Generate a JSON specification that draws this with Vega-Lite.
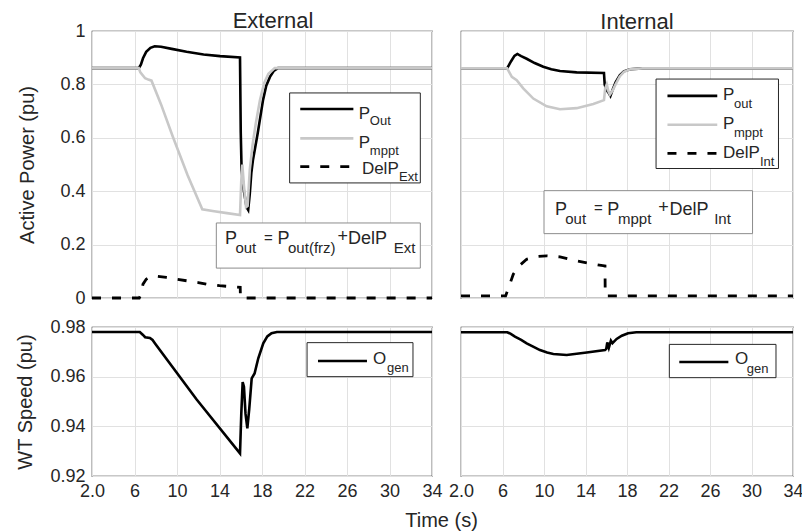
{
  "$schema": "https://vega.github.io/schema/vega-lite/v6.json",
  "background": "white",
  "padding": {"left": 15, "top": 9, "right": 8, "bottom": 2},
  "config": {
    "font": "Liberation Sans",
    "view": {"stroke": "#262626", "strokeWidth": 1.2},
    "axis": {
      "grid": true, "gridColor": "#e1e1e1", "gridWidth": 1,
      "ticks": false, "domain": false,
      "labelFont": "Liberation Sans", "labelFontSize": 18, "labelColor": "#262626", "labelPadding": 7,
      "titleFont": "Liberation Sans", "titleFontSize": 20, "titleFontWeight": "normal", "titleColor": "#262626"
    },
    "title": {"font": "Liberation Sans", "fontSize": 22, "fontWeight": "normal", "color": "#262626"},
    "text": {"font": "Liberation Sans", "color": "#262626", "align": "left", "baseline": "middle"},
    "line": {"clip": false}
  },
  "title": {"text": "Time (s)", "orient": "bottom", "anchor": "middle", "fontSize": 20, "dx": 32, "offset": 10},
  "datasets": {
    "extOut": [
      {"t": 2, "v": 0.861}, {"t": 6.4, "v": 0.861}, {"t": 6.6, "v": 0.874}, {"t": 6.8, "v": 0.898},
      {"t": 7.1, "v": 0.922}, {"t": 7.5, "v": 0.937}, {"t": 7.9, "v": 0.943}, {"t": 8.5, "v": 0.941},
      {"t": 9.5, "v": 0.933}, {"t": 10.9, "v": 0.922}, {"t": 12.5, "v": 0.912}, {"t": 14.05, "v": 0.906},
      {"t": 15.93, "v": 0.901}, {"t": 16.0, "v": 0.62}, {"t": 16.08, "v": 0.48}, {"t": 16.3, "v": 0.4},
      {"t": 16.55, "v": 0.34}, {"t": 16.7, "v": 0.33}, {"t": 16.85, "v": 0.39}, {"t": 17.0, "v": 0.47},
      {"t": 17.15, "v": 0.517}, {"t": 17.6, "v": 0.618}, {"t": 18.1, "v": 0.742}, {"t": 18.4, "v": 0.795},
      {"t": 18.75, "v": 0.828}, {"t": 19.1, "v": 0.85}, {"t": 19.5, "v": 0.861}, {"t": 34, "v": 0.861}
    ],
    "extMppt": [
      {"t": 2, "v": 0.861}, {"t": 6.4, "v": 0.861}, {"t": 6.55, "v": 0.845}, {"t": 7.0, "v": 0.823},
      {"t": 7.3, "v": 0.818}, {"t": 7.6, "v": 0.814}, {"t": 8.5, "v": 0.725}, {"t": 9.6, "v": 0.605},
      {"t": 11.0, "v": 0.46}, {"t": 12.38, "v": 0.332}, {"t": 13.5, "v": 0.325}, {"t": 14.7, "v": 0.318},
      {"t": 15.93, "v": 0.311}, {"t": 16.05, "v": 0.44}, {"t": 16.15, "v": 0.5}, {"t": 16.3, "v": 0.42},
      {"t": 16.5, "v": 0.34}, {"t": 16.65, "v": 0.345}, {"t": 16.85, "v": 0.48}, {"t": 17.1, "v": 0.57},
      {"t": 17.4, "v": 0.65}, {"t": 17.8, "v": 0.74}, {"t": 18.2, "v": 0.805}, {"t": 18.6, "v": 0.84},
      {"t": 19.2, "v": 0.861}, {"t": 34, "v": 0.861}
    ],
    "extDel": [
      {"t": 2, "v": 0.0}, {"t": 6.45, "v": 0.0}, {"t": 6.6, "v": 0.012}, {"t": 6.8, "v": 0.052},
      {"t": 7.1, "v": 0.07}, {"t": 7.6, "v": 0.081}, {"t": 8.0, "v": 0.082}, {"t": 9.0, "v": 0.077},
      {"t": 10.0, "v": 0.07}, {"t": 11.0, "v": 0.064}, {"t": 12.0, "v": 0.058}, {"t": 12.8, "v": 0.052},
      {"t": 14.0, "v": 0.046}, {"t": 15.3, "v": 0.042}, {"t": 15.95, "v": 0.04}, {"t": 15.97, "v": 0.0},
      {"t": 34, "v": 0.0}
    ],
    "extSpeed": [
      {"t": 2, "v": 0.978}, {"t": 6.5, "v": 0.978}, {"t": 6.8, "v": 0.9768}, {"t": 7.0, "v": 0.9759},
      {"t": 7.45, "v": 0.9756}, {"t": 7.7, "v": 0.9748}, {"t": 7.95, "v": 0.9733}, {"t": 11.85, "v": 0.9508},
      {"t": 15.93, "v": 0.9291}, {"t": 16.05, "v": 0.945}, {"t": 16.18, "v": 0.9578}, {"t": 16.3, "v": 0.956},
      {"t": 16.45, "v": 0.945}, {"t": 16.62, "v": 0.9392}, {"t": 16.8, "v": 0.947}, {"t": 17.03, "v": 0.9593},
      {"t": 17.3, "v": 0.9613}, {"t": 17.65, "v": 0.9674}, {"t": 18.12, "v": 0.9734}, {"t": 18.5, "v": 0.9762},
      {"t": 18.9, "v": 0.9775}, {"t": 19.4, "v": 0.978}, {"t": 34, "v": 0.978}
    ],
    "intOut": [
      {"t": 2, "v": 0.86}, {"t": 6.45, "v": 0.86}, {"t": 6.8, "v": 0.885}, {"t": 7.15, "v": 0.907},
      {"t": 7.43, "v": 0.914}, {"t": 7.8, "v": 0.906}, {"t": 8.33, "v": 0.896}, {"t": 9.1, "v": 0.88},
      {"t": 9.93, "v": 0.866}, {"t": 10.7, "v": 0.857}, {"t": 11.54, "v": 0.85}, {"t": 13.15, "v": 0.845},
      {"t": 15.78, "v": 0.843}, {"t": 15.85, "v": 0.8}, {"t": 16.0, "v": 0.78}, {"t": 16.2, "v": 0.77},
      {"t": 16.4, "v": 0.757}, {"t": 16.6, "v": 0.778}, {"t": 16.9, "v": 0.808}, {"t": 17.3, "v": 0.834},
      {"t": 17.7, "v": 0.849}, {"t": 18.3, "v": 0.857}, {"t": 19.5, "v": 0.86}, {"t": 34, "v": 0.86}
    ],
    "intMppt": [
      {"t": 2, "v": 0.86}, {"t": 6.45, "v": 0.86}, {"t": 6.9, "v": 0.828}, {"t": 7.37, "v": 0.816},
      {"t": 8.0, "v": 0.785}, {"t": 8.97, "v": 0.747}, {"t": 10.26, "v": 0.718}, {"t": 11.54, "v": 0.707},
      {"t": 13.15, "v": 0.711}, {"t": 14.75, "v": 0.727}, {"t": 15.78, "v": 0.741}, {"t": 15.9, "v": 0.785},
      {"t": 16.05, "v": 0.8}, {"t": 16.2, "v": 0.775}, {"t": 16.35, "v": 0.762}, {"t": 16.6, "v": 0.776},
      {"t": 16.9, "v": 0.8}, {"t": 17.3, "v": 0.83}, {"t": 17.7, "v": 0.847}, {"t": 18.3, "v": 0.857},
      {"t": 19.5, "v": 0.86}, {"t": 34, "v": 0.86}
    ],
    "intDel": [
      {"t": 2, "v": 0.008}, {"t": 6.3, "v": 0.008}, {"t": 6.6, "v": 0.04}, {"t": 7.04, "v": 0.089},
      {"t": 7.6, "v": 0.12}, {"t": 8.33, "v": 0.145}, {"t": 9.3, "v": 0.155}, {"t": 10.26, "v": 0.158},
      {"t": 11.54, "v": 0.154}, {"t": 12.4, "v": 0.146}, {"t": 13.15, "v": 0.139}, {"t": 14.75, "v": 0.127},
      {"t": 15.88, "v": 0.12}, {"t": 15.9, "v": 0.008}, {"t": 34, "v": 0.008}
    ],
    "intSpeed": [
      {"t": 2, "v": 0.9779}, {"t": 6.46, "v": 0.9779}, {"t": 6.8, "v": 0.9772}, {"t": 7.2, "v": 0.9761},
      {"t": 7.8, "v": 0.9748}, {"t": 8.33, "v": 0.9734}, {"t": 9.0, "v": 0.972}, {"t": 9.61, "v": 0.9707},
      {"t": 10.3, "v": 0.9697}, {"t": 10.9, "v": 0.9691}, {"t": 12.19, "v": 0.9687}, {"t": 14.12, "v": 0.9697},
      {"t": 15.88, "v": 0.9707}, {"t": 16.0, "v": 0.9712}, {"t": 16.1, "v": 0.9738}, {"t": 16.25, "v": 0.9716},
      {"t": 16.45, "v": 0.9745}, {"t": 16.6, "v": 0.9735}, {"t": 17.0, "v": 0.9752}, {"t": 17.5, "v": 0.9765},
      {"t": 18.1, "v": 0.9775}, {"t": 18.9, "v": 0.9779}, {"t": 34, "v": 0.9779}
    ]
  },
  "columns": 2,
  "align": "each",
  "bounds": "flush",
  "spacing": {"row": 29, "column": 29},
  "concat": [
    {
      "width": 340, "height": 267,
      "title": {"text": "External", "dx": 11, "offset": -11},
      "layer": [
        {
          "data": {"name": "extOut"},
          "mark": {"type": "line", "color": "#000000", "strokeWidth": 2.6},
          "encoding": {
            "x": {"field": "t", "type": "quantitative", "scale": {"domain": [2, 34], "nice": false, "zero": false},
                  "axis": {"values": [2, 6, 10, 14, 18, 22, 26, 30, 34], "labels": false, "title": null}},
            "y": {"field": "v", "type": "quantitative", "scale": {"domain": [0, 1], "nice": false},
                  "axis": {"values": [0, 0.2, 0.4, 0.6, 0.8, 1], "format": "~g", "title": "Active Power (pu)", "titlePadding": 22}}
          }
        },
        {
          "data": {"name": "extMppt"},
          "mark": {"type": "line", "color": "#c8c8c8", "strokeWidth": 2.6},
          "encoding": {"x": {"field": "t", "type": "quantitative"}, "y": {"field": "v", "type": "quantitative"}}
        },
        {
          "data": {"name": "extDel"},
          "mark": {"type": "line", "color": "#000000", "strokeWidth": 2.8, "strokeDash": [9, 11]},
          "encoding": {"x": {"field": "t", "type": "quantitative"}, "y": {"field": "v", "type": "quantitative"}}
        },
        {
          "data": {"values": [{}]},
          "layer": [
            {"mark": {"type": "rect", "fill": "white", "stroke": "#262626", "strokeWidth": 1},
             "encoding": {"x": {"datum": 20.6}, "x2": {"datum": 32.9}, "y": {"datum": 0.768}, "y2": {"datum": 0.431}}},
            {"mark": {"type": "rule", "color": "#000000", "strokeWidth": 2.6},
             "encoding": {"x": {"datum": 21.6}, "x2": {"datum": 26.6}, "y": {"datum": 0.708}}},
            {"mark": {"type": "rule", "color": "#c8c8c8", "strokeWidth": 2.6},
             "encoding": {"x": {"datum": 21.6}, "x2": {"datum": 26.6}, "y": {"datum": 0.598}}},
            {"mark": {"type": "rule", "color": "#000000", "strokeWidth": 2.8, "strokeDash": [9, 11]},
             "encoding": {"x": {"datum": 21.6}, "x2": {"datum": 26.6}, "y": {"datum": 0.492}}},
            {"mark": {"type": "text", "text": "P", "fontSize": 17},
             "encoding": {"x": {"datum": 27.1}, "y": {"datum": 0.689}}},
            {"mark": {"type": "text", "text": "Out", "fontSize": 13},
             "encoding": {"x": {"datum": 28.15}, "y": {"datum": 0.662}}},
            {"mark": {"type": "text", "text": "P", "fontSize": 17},
             "encoding": {"x": {"datum": 27.1}, "y": {"datum": 0.582}}},
            {"mark": {"type": "text", "text": "mppt", "fontSize": 13},
             "encoding": {"x": {"datum": 28.15}, "y": {"datum": 0.549}}},
            {"mark": {"type": "text", "text": "DelP", "fontSize": 17},
             "encoding": {"x": {"datum": 27.4}, "y": {"datum": 0.483}}},
            {"mark": {"type": "text", "text": "Ext", "fontSize": 13},
             "encoding": {"x": {"datum": 30.9}, "y": {"datum": 0.453}}},
            {"mark": {"type": "rect", "fill": "white", "stroke": "#8c8c8c", "strokeWidth": 1},
             "encoding": {"x": {"datum": 13.7}, "x2": {"datum": 32.9}, "y": {"datum": 0.281}, "y2": {"datum": 0.112}}},
            {"mark": {"type": "text", "text": "P", "fontSize": 18},
             "encoding": {"x": {"datum": 14.52}, "y": {"datum": 0.221}}},
            {"mark": {"type": "text", "text": "out", "fontSize": 15},
             "encoding": {"x": {"datum": 15.5}, "y": {"datum": 0.187}}},
            {"mark": {"type": "text", "text": "=", "fontSize": 15},
             "encoding": {"x": {"datum": 18.19}, "y": {"datum": 0.226}}},
            {"mark": {"type": "text", "text": "P", "fontSize": 18},
             "encoding": {"x": {"datum": 19.45}, "y": {"datum": 0.221}}},
            {"mark": {"type": "text", "text": "out(frz)", "fontSize": 15},
             "encoding": {"x": {"datum": 20.45}, "y": {"datum": 0.187}}},
            {"mark": {"type": "text", "text": "+", "fontSize": 18},
             "encoding": {"x": {"datum": 25.1}, "y": {"datum": 0.228}}},
            {"mark": {"type": "text", "text": "DelP", "fontSize": 18},
             "encoding": {"x": {"datum": 26.1}, "y": {"datum": 0.221}}},
            {"mark": {"type": "text", "text": "Ext", "fontSize": 15},
             "encoding": {"x": {"datum": 30.4}, "y": {"datum": 0.187}}}
          ]
        }
      ]
    },
    {
      "width": 332, "height": 267,
      "title": {"text": "Internal", "dx": 10, "offset": -3},
      "layer": [
        {
          "data": {"name": "intOut"},
          "mark": {"type": "line", "color": "#000000", "strokeWidth": 2.6},
          "encoding": {
            "x": {"field": "t", "type": "quantitative", "scale": {"domain": [2, 34], "nice": false, "zero": false},
                  "axis": {"values": [2, 6, 10, 14, 18, 22, 26, 30, 34], "labels": false, "title": null}},
            "y": {"field": "v", "type": "quantitative", "scale": {"domain": [0, 1], "nice": false},
                  "axis": {"values": [0, 0.2, 0.4, 0.6, 0.8, 1], "labels": false, "title": null}}
          }
        },
        {
          "data": {"name": "intMppt"},
          "mark": {"type": "line", "color": "#c8c8c8", "strokeWidth": 2.6},
          "encoding": {"x": {"field": "t", "type": "quantitative"}, "y": {"field": "v", "type": "quantitative"}}
        },
        {
          "data": {"name": "intDel"},
          "mark": {"type": "line", "color": "#000000", "strokeWidth": 2.8, "strokeDash": [9, 11]},
          "encoding": {"x": {"field": "t", "type": "quantitative"}, "y": {"field": "v", "type": "quantitative"}}
        },
        {
          "data": {"values": [{}]},
          "layer": [
            {"mark": {"type": "rect", "fill": "white", "stroke": "#262626", "strokeWidth": 1},
             "encoding": {"x": {"datum": 20.8}, "x2": {"datum": 32.6}, "y": {"datum": 0.82}, "y2": {"datum": 0.485}}},
            {"mark": {"type": "rule", "color": "#000000", "strokeWidth": 2.6},
             "encoding": {"x": {"datum": 21.9}, "x2": {"datum": 26.7}, "y": {"datum": 0.757}}},
            {"mark": {"type": "rule", "color": "#c8c8c8", "strokeWidth": 2.6},
             "encoding": {"x": {"datum": 21.9}, "x2": {"datum": 26.7}, "y": {"datum": 0.649}}},
            {"mark": {"type": "rule", "color": "#000000", "strokeWidth": 2.8, "strokeDash": [9, 11]},
             "encoding": {"x": {"datum": 21.9}, "x2": {"datum": 26.7}, "y": {"datum": 0.542}}},
            {"mark": {"type": "text", "text": "P", "fontSize": 17},
             "encoding": {"x": {"datum": 27.25}, "y": {"datum": 0.759}}},
            {"mark": {"type": "text", "text": "out", "fontSize": 13},
             "encoding": {"x": {"datum": 28.31}, "y": {"datum": 0.727}}},
            {"mark": {"type": "text", "text": "P", "fontSize": 17},
             "encoding": {"x": {"datum": 27.25}, "y": {"datum": 0.65}}},
            {"mark": {"type": "text", "text": "mppt", "fontSize": 13},
             "encoding": {"x": {"datum": 28.31}, "y": {"datum": 0.618}}},
            {"mark": {"type": "text", "text": "DelP", "fontSize": 17},
             "encoding": {"x": {"datum": 27.25}, "y": {"datum": 0.543}}},
            {"mark": {"type": "text", "text": "Int", "fontSize": 13},
             "encoding": {"x": {"datum": 30.82}, "y": {"datum": 0.511}}},
            {"mark": {"type": "rect", "fill": "white", "stroke": "#8c8c8c", "strokeWidth": 1},
             "encoding": {"x": {"datum": 10.0}, "x2": {"datum": 30.1}, "y": {"datum": 0.402}, "y2": {"datum": 0.241}}},
            {"mark": {"type": "text", "text": "P", "fontSize": 18},
             "encoding": {"x": {"datum": 11.06}, "y": {"datum": 0.331}}},
            {"mark": {"type": "text", "text": "out", "fontSize": 15},
             "encoding": {"x": {"datum": 12.05}, "y": {"datum": 0.297}}},
            {"mark": {"type": "text", "text": "=", "fontSize": 15},
             "encoding": {"x": {"datum": 14.82}, "y": {"datum": 0.336}}},
            {"mark": {"type": "text", "text": "P", "fontSize": 18},
             "encoding": {"x": {"datum": 16.1}, "y": {"datum": 0.331}}},
            {"mark": {"type": "text", "text": "mppt", "fontSize": 15},
             "encoding": {"x": {"datum": 17.13}, "y": {"datum": 0.297}}},
            {"mark": {"type": "text", "text": "+", "fontSize": 18},
             "encoding": {"x": {"datum": 21.0}, "y": {"datum": 0.338}}},
            {"mark": {"type": "text", "text": "DelP", "fontSize": 18},
             "encoding": {"x": {"datum": 22.1}, "y": {"datum": 0.331}}},
            {"mark": {"type": "text", "text": "Int", "fontSize": 15},
             "encoding": {"x": {"datum": 26.4}, "y": {"datum": 0.297}}}
          ]
        }
      ]
    },
    {
      "width": 340, "height": 149,
      "layer": [
        {
          "data": {"name": "extSpeed"},
          "mark": {"type": "line", "color": "#000000", "strokeWidth": 2.6},
          "encoding": {
            "x": {"field": "t", "type": "quantitative", "scale": {"domain": [2, 34], "nice": false, "zero": false},
                  "axis": {"values": [2, 6, 10, 14, 18, 22, 26, 30, 34], "title": null, "labelPadding": 6,
                           "labelExpr": "datum.value == 2 ? '2.0' : datum.label", "labelOverlap": false, "labelFlush": false}},
            "y": {"field": "v", "type": "quantitative", "scale": {"domain": [0.92, 0.98], "nice": false, "zero": false},
                  "axis": {"values": [0.92, 0.94, 0.96, 0.98], "format": ".2f", "title": "WT Speed (pu)", "titlePadding": 14}}
          }
        },
        {
          "data": {"values": [{}]},
          "layer": [
            {"mark": {"type": "rect", "fill": "white", "stroke": "#262626", "strokeWidth": 1},
             "encoding": {"x": {"datum": 22.24}, "x2": {"datum": 32.21}, "y": {"datum": 0.9737}, "y2": {"datum": 0.96}}},
            {"mark": {"type": "rule", "color": "#000000", "strokeWidth": 2.6},
             "encoding": {"x": {"datum": 23.27}, "x2": {"datum": 27.88}, "y": {"datum": 0.9663}}},
            {"mark": {"type": "text", "text": "O", "fontSize": 17},
             "encoding": {"x": {"datum": 28.45}, "y": {"datum": 0.9671}}},
            {"mark": {"type": "text", "text": "gen", "fontSize": 13},
             "encoding": {"x": {"datum": 29.76}, "y": {"datum": 0.9633}}}
          ]
        }
      ]
    },
    {
      "width": 332, "height": 149,
      "layer": [
        {
          "data": {"name": "intSpeed"},
          "mark": {"type": "line", "color": "#000000", "strokeWidth": 2.6},
          "encoding": {
            "x": {"field": "t", "type": "quantitative", "scale": {"domain": [2, 34], "nice": false, "zero": false},
                  "axis": {"values": [2, 6, 10, 14, 18, 22, 26, 30, 34], "title": null, "labelPadding": 6,
                           "labelExpr": "datum.value == 2 ? '2.0' : datum.label", "labelOverlap": false, "labelFlush": false}},
            "y": {"field": "v", "type": "quantitative", "scale": {"domain": [0.92, 0.98], "nice": false, "zero": false},
                  "axis": {"values": [0.92, 0.94, 0.96, 0.98], "labels": false, "title": null}}
          }
        },
        {
          "data": {"values": [{}]},
          "layer": [
            {"mark": {"type": "rect", "fill": "white", "stroke": "#262626", "strokeWidth": 1},
             "encoding": {"x": {"datum": 22.08}, "x2": {"datum": 32.36}, "y": {"datum": 0.973}, "y2": {"datum": 0.9596}}},
            {"mark": {"type": "rule", "color": "#000000", "strokeWidth": 2.6},
             "encoding": {"x": {"datum": 23.04}, "x2": {"datum": 27.77}, "y": {"datum": 0.9659}}},
            {"mark": {"type": "text", "text": "O", "fontSize": 17},
             "encoding": {"x": {"datum": 28.41}, "y": {"datum": 0.9671}}},
            {"mark": {"type": "text", "text": "gen", "fontSize": 13},
             "encoding": {"x": {"datum": 29.54}, "y": {"datum": 0.9631}}}
          ]
        }
      ]
    }
  ]
}
